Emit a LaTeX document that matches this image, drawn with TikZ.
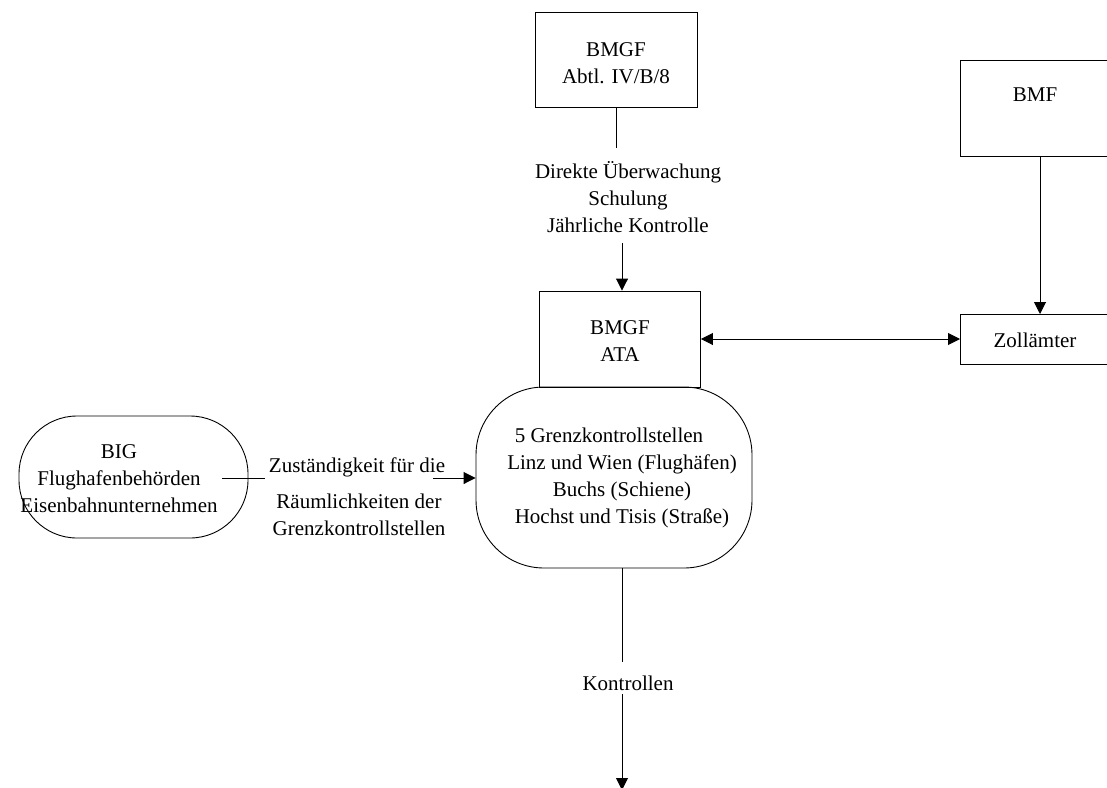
\documentclass[tikz,border=0pt]{standalone}
\usepackage{fontspec}
\setmainfont{Liberation Serif}
\usetikzlibrary{arrows.meta}
\begin{document}
\begin{tikzpicture}[x=1pt,y=-1pt,
  every node/.style={font=\fontsize{21}{27}\selectfont, inner sep=0pt},
  box/.style={draw, line width=0.9pt, align=center},
  blob/.style={draw, line width=0.9pt, rounded corners=#1},
  lbl/.style={align=center},
  conn/.style={line width=0.9pt},
  arr/.style={line width=0.9pt, -{Triangle[length=12pt,width=12pt]}},
  darr/.style={line width=0.9pt, {Triangle[length=12pt,width=12pt]}-{Triangle[length=12pt,width=12pt]}}
]
\useasboundingbox (0,0) rectangle (1107,787);

% top box
\node[box, minimum width=162pt, minimum height=95pt] (abtl) at (616,59.5) {};
\node[lbl] (abtltxt) at (616,63) {BMGF\\Abtl. IV/B/8};

% BMF box (cut at right edge)
\node[box, minimum width=160pt, minimum height=96pt, anchor=north west] (bmf) at (960,60) {};
\node[lbl] (bmftxt) at (1035,95) {BMF};

% Zollaemter
\node[box, minimum width=160pt, minimum height=50pt, anchor=north west] (zoll) at (960,314) {};
\node[lbl] (zolltxt) at (1035,340) {Zollämter};

% ATA box
\node[box, minimum width=161pt, minimum height=96pt] (ata) at (620,339) {};
\node[lbl] (atatxt) at (620,341) {BMGF\\ATA};

% main rounded shape
\node[blob=68pt, minimum width=276pt, minimum height=181pt] (grenz) at (614,477.5) {};
\node[lbl] (grenztxt) at (622,478) {5 Grenzkontrollstellen\hspace*{26pt}\\Linz und Wien (Flughäfen)\\Buchs (Schiene)\\Hochst und Tisis (Straße)};

% BIG rounded shape
\node[blob=58pt, minimum width=229pt, minimum height=122pt] (bigshape) at (133.5,477) {};
\node[lbl] (big) at (119,479) {BIG\\Flughafenbehörden\\Eisenbahnunternehmen};

% labels
\node[lbl] (ueb) at (628,197) {Direkte Überwachung\\Schulung\\Jährliche Kontrolle};
\node[lbl] (kontr) at (628,683) {Kontrollen};
\node[lbl] (zust) at (357,467) {Zuständigkeit für die};
\node[lbl] (raeum) at (359,514.5) {Räumlichkeiten der\\Grenzkontrollstellen};

% coordinates for connector ends
\coordinate (c1) at (616,148);
\coordinate (c2) at (622,243);
\coordinate (c3) at (622,662);
\coordinate (c4) at (622,790);
\coordinate (c5) at (222,478);
\coordinate (c6) at (265,478);
\coordinate (c7) at (433,478);

% connectors
\draw[conn] (abtl.south -| c1) -- (c1);
\draw[arr] (c2) -- (ata.north -| c2);
\draw[arr] (bmf.south -| 1040,0) -- (zoll.north -| 1040,0);
\draw[darr] (ata.east |- 0,339) -- (zoll.west |- 0,339);
\draw[conn] (grenz.south -| c3) -- (c3);
\draw[arr] (622,694) -- (c4);
\draw[conn] (c5) -- (c6);
\draw[arr] (c7) -- (grenz.west |- c7);
\end{tikzpicture}
\end{document}
